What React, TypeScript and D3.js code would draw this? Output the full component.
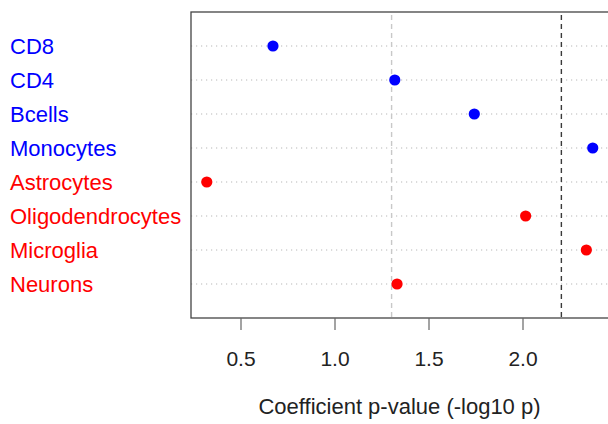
import React from "react";
import * as d3 from "d3";

const categories = ["CD8", "CD4", "Bcells", "Monocytes", "Astrocytes", "Oligodendrocytes", "Microglia", "Neurons"];
const values = [0.67, 1.318, 1.741, 2.371, 0.318, 2.014, 2.337, 1.33];
const groups = ["blood", "blood", "blood", "blood", "brain", "brain", "brain", "brain"];
const xTicks = [0.5, 1.0, 1.5, 2.0];
const nominalThreshold = -Math.log10(0.05);
const bonferroniThreshold = -Math.log10(0.05 / 8);
const xTitle = "Coefficient p-value (-log10 p)";

const W = 608;
const H = 424;
const left = 191;
const right = 608;
const top = 12;
const bottom = 318;

export default function App() {
  const x = d3.scaleLinear().domain([0.5, 2.0]).range([241, 523]);
  const n = categories.length;
  const y = d3.scaleLinear().domain([0, n + 1]).range([bottom, top]);
  const color = (g: string) => (g === "blood" ? "#0000FF" : "#FF0000");
  const font = "Liberation Sans, Arial, sans-serif";

  return (
    <svg
      width={W}
      height={H}
      style={{ position: "absolute", left: 0, top: 0, background: "#fff" }}
      fontFamily={font}
    >
      <rect x={0} y={0} width={W} height={H} fill="#fff" />
      {categories.map((c, i) => {
        const yy = y(n - i);
        return (
          <line
            key={"g" + c}
            x1={left}
            x2={right}
            y1={yy}
            y2={yy}
            stroke="#b8b8b8"
            strokeWidth={1.1}
            strokeDasharray="1.2,3.8"
          />
        );
      })}
      <line
        x1={x(nominalThreshold)}
        x2={x(nominalThreshold)}
        y1={top + 3}
        y2={bottom}
        stroke="#c8c8c8"
        strokeWidth={1.4}
        strokeDasharray="5,4"
      />
      <line
        x1={x(bonferroniThreshold)}
        x2={x(bonferroniThreshold)}
        y1={top + 3}
        y2={bottom}
        stroke="#3a3a3a"
        strokeWidth={1.4}
        strokeDasharray="5,4"
      />
      {categories.map((c, i) => (
        <circle key={"p" + c} cx={x(values[i])} cy={y(n - i)} r={5.6} fill={color(groups[i])} />
      ))}
      <rect
        x={left}
        y={top}
        width={right - left + 2}
        height={bottom - top}
        fill="none"
        stroke="#444"
        strokeWidth={1.3}
      />
      {xTicks.map((t) => (
        <g key={"t" + t}>
          <line x1={x(t)} x2={x(t)} y1={bottom} y2={bottom + 12} stroke="#666" strokeWidth={1.2} />
          <text x={x(t)} y={366} textAnchor="middle" fontSize={21} fill="#222">
            {d3.format(".1f")(t)}
          </text>
        </g>
      ))}
      {categories.map((c, i) => (
        <text key={"l" + c} x={10} y={y(n - i) + 7.8} fontSize={22} fill={color(groups[i])}>
          {c}
        </text>
      ))}
      <text x={(left + right) / 2} y={414} textAnchor="middle" fontSize={22} fill="#222">
        {xTitle}
      </text>
    </svg>
  );
}
